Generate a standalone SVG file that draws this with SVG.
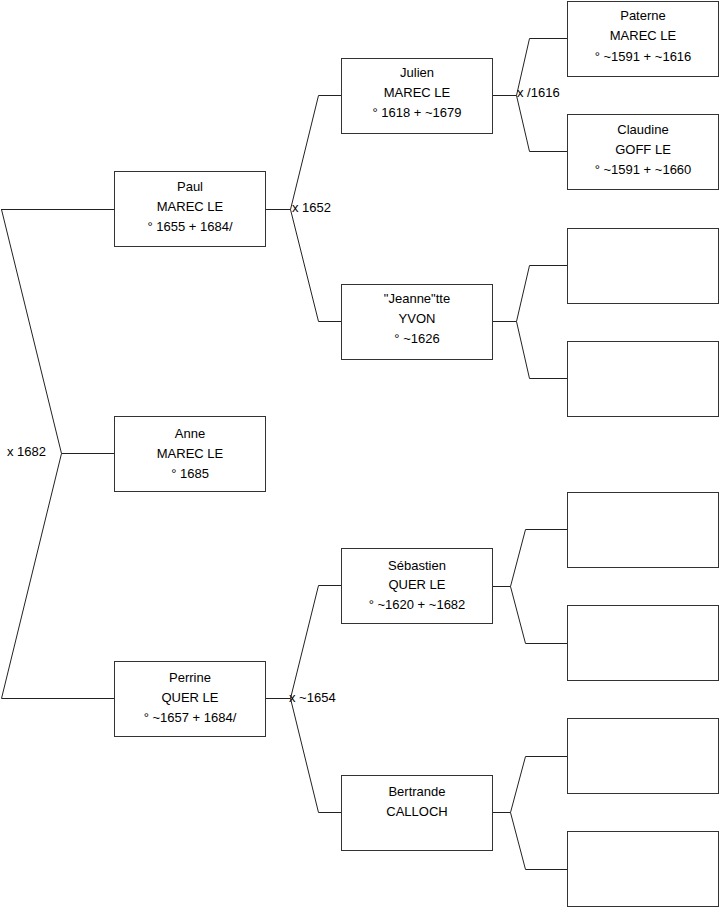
<svg xmlns="http://www.w3.org/2000/svg" width="719" height="908" viewBox="0 0 719 908">
<style>
.box rect{fill:#fff;stroke:#333;stroke-width:1}
text{font-family:"Liberation Sans",Arial,sans-serif;font-size:13px;fill:#000}
.box text{text-anchor:middle}
.conn path{fill:none;stroke:#222;stroke-width:1}
</style>
<rect width="719" height="908" fill="#fff"/>
<g id="connectors" class="conn">
<path d="M1,209.5H114 M1.5,209.5L61.5,453.5L1.5,698.5H114 M61.5,453.5H114"/>
<path d="M265,209.5H290.5L318.5,95.5H341 M290.5,209.5L318.5,321.5H341"/>
<path d="M492,95.5H516.5L529.5,38.5H567 M516.5,95.5L529.5,151.5H567"/>
<path d="M492,321.5H516.5L529.5,265.5H567 M516.5,321.5L529.5,378.5H567"/>
<path d="M265,698.5H290.5L318.5,585.5H341 M290.5,698.5L318.5,812.5H341"/>
<path d="M492,586.5H510.5L525.5,529.5H567 M510.5,586.5L525.5,643.5H567"/>
<path d="M492,812.5H510.5L525.5,756.5H567 M510.5,812.5L525.5,869.5H567"/>
<text x="7" y="456">x 1682</text>
<text x="292" y="212">x 1652</text>
<text x="517" y="97">x /1616</text>
<text x="289" y="702">x ~1654</text>
</g>
<g id="paul" class="box"><rect x="114.5" y="171.5" width="151" height="75"/><text x="190" y="191">Paul</text><text x="190" y="211">MAREC LE</text><text x="190" y="231">° 1655 + 1684/</text></g>
<g id="anne" class="box"><rect x="114.5" y="416.5" width="151" height="75"/><text x="190" y="438">Anne</text><text x="190" y="458">MAREC LE</text><text x="190" y="478">° 1685</text></g>
<g id="perrine" class="box"><rect x="114.5" y="661.5" width="151" height="75"/><text x="190" y="682">Perrine</text><text x="190" y="702">QUER LE</text><text x="190" y="722">° ~1657 + 1684/</text></g>
<g id="julien" class="box"><rect x="341.5" y="58.5" width="151" height="75"/><text x="417" y="77">Julien</text><text x="417" y="97">MAREC LE</text><text x="417" y="117">° 1618 + ~1679</text></g>
<g id="jeannette" class="box"><rect x="341.5" y="284.5" width="151" height="75"/><text x="417" y="303">"Jeanne"tte</text><text x="417" y="323">YVON</text><text x="417" y="343">° ~1626</text></g>
<g id="sebastien" class="box"><rect x="341.5" y="548.5" width="151" height="75"/><text x="417" y="570">Sébastien</text><text x="417" y="589">QUER LE</text><text x="417" y="609">° ~1620 + ~1682</text></g>
<g id="bertrande" class="box"><rect x="341.5" y="775.5" width="151" height="75"/><text x="417" y="796">Bertrande</text><text x="417" y="816">CALLOCH</text></g>
<g id="paterne" class="box"><rect x="567.5" y="1.5" width="151" height="75"/><text x="643" y="20">Paterne</text><text x="643" y="40">MAREC LE</text><text x="643" y="61">° ~1591 + ~1616</text></g>
<g id="claudine" class="box"><rect x="567.5" y="114.5" width="151" height="75"/><text x="643" y="134">Claudine</text><text x="643" y="154">GOFF LE</text><text x="643" y="174">° ~1591 + ~1660</text></g>
<g id="jeannette-father" class="box"><rect x="567.5" y="228.5" width="151" height="75"/></g>
<g id="jeannette-mother" class="box"><rect x="567.5" y="341.5" width="151" height="75"/></g>
<g id="sebastien-father" class="box"><rect x="567.5" y="492.5" width="151" height="75"/></g>
<g id="sebastien-mother" class="box"><rect x="567.5" y="605.5" width="151" height="75"/></g>
<g id="bertrande-father" class="box"><rect x="567.5" y="718.5" width="151" height="75"/></g>
<g id="bertrande-mother" class="box"><rect x="567.5" y="831.5" width="151" height="75"/></g>
</svg>
